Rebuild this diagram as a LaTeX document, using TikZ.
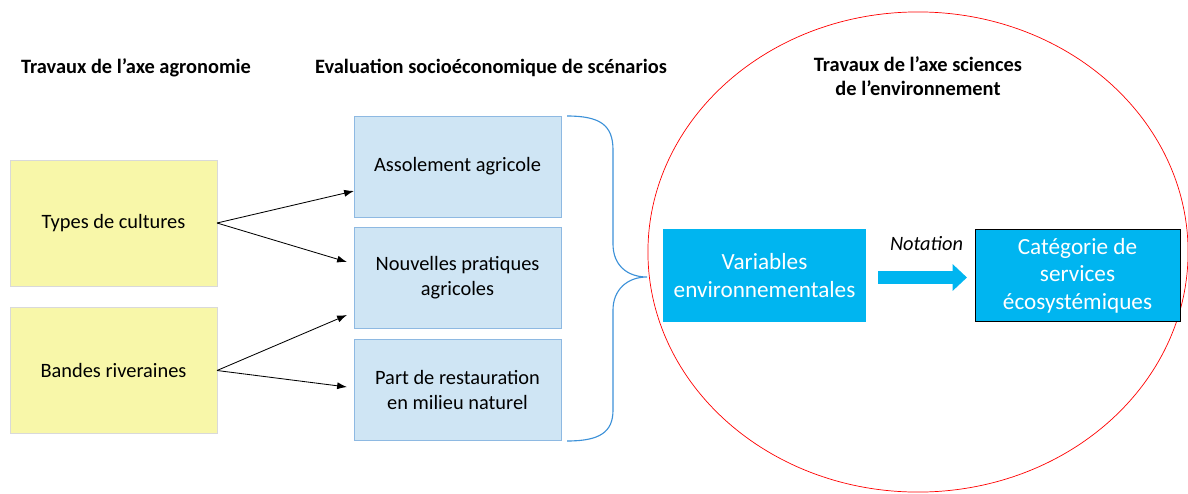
\documentclass[tikz,border=0pt]{standalone}
\usepackage{fontspec}
\setmainfont{Carlito}
\usetikzlibrary{arrows.meta,calc}
\definecolor{jaune}{HTML}{F8F7A9}
\definecolor{bleuclair}{HTML}{CFE5F4}
\definecolor{bleubord}{HTML}{8EB9E2}
\definecolor{cyanfort}{HTML}{00B5F0}
\definecolor{bleuaccol}{HTML}{3C91D8}
\begin{document}
\begin{tikzpicture}[x=0.025cm, y=-0.025cm, >={Latex[length=7pt,width=5pt]}, line width=0.6pt,
		every node/.style={font=\fontsize{14.5}{17.5}\selectfont, align=center, inner sep=0pt, outer sep=0pt},
		titre/.style={font=\fontsize{14.5}{17.5}\selectfont\bfseries},
		agro/.style={draw=black!15, fill=jaune, minimum width=5.175cm, minimum height=3.15cm},
		scen/.style={draw=bleubord, fill=bleuclair, minimum width=5.175cm, minimum height=2.525cm},
		env/.style={fill=cyanfort, text=white, font=\fontsize{16.5}{19.5}\selectfont, minimum height=2.3cm}]
	\useasboundingbox (0,0) rectangle (1188,493);
	\clip (0,0) rectangle (1188,493);
	
	% titres des trois axes
	\node[titre] (tagro) at (136,68) {Travaux de l’axe agronomie};
	\node[titre] (tscen) at (491,68) {Evaluation socioéconomique de scénarios};
	\node[titre] (tenv) at (918,76) {Travaux de l’axe sciences\\de l’environnement};
	
	% axe agronomie
	\node[agro] (types) at (113.5,223) {Types de cultures};
	\node[agro] (bandes) at (113.5,370.5) {Bandes riveraines};
	
	% scénarios
	\node[scen] (assol) at (457.5,166.5) {Assolement agricole};
	\node[scen] (pratiq) at (457.5,277.5) {Nouvelles pratiques\\agricoles};
	\node[scen] (restau) at (457.5,390) {Part de restauration\\en milieu naturel};
	
	% flèches vers les scénarios
	\draw[->] (types.east) -- ($(assol.west)+(0,24.5)$);
	\draw[->] (types.east) -- ($(pratiq.west)+(-7,-15.5)$);
	\draw[->] (bandes.east) -- ($(pratiq.west)+(-7,37.5)$);
	\draw[->] (bandes.east) -- ($(restau.west)+(-7,-3)$);
	
	% accolade
	\draw[bleuaccol, line width=0.8pt] (567,116) .. controls (600,116) and (613,125) .. (613,150)
		-- (613,244) .. controls (613,265) and (627,277) .. (647,277)
		.. controls (627,277) and (613,290) .. (613,310)
		-- (613,410) .. controls (613,432) and (600,441) .. (567,441);
	
	% axe sciences de l'environnement
	\draw[red, line width=0.5pt] (918,252) ellipse[x radius=6.75cm, y radius=6cm];
	\node[env, minimum width=5.075cm] (varenv) at (764.5,275.5) {Variables\\environnementales};
	\node[env, draw=black, minimum width=5.125cm] (categ) at (1077.5,275.5) {Catégorie de\\services\\écosystémiques};
	\draw[cyanfort, line width=0.325cm, -{Triangle[length=0.36cm,width=0.65cm]}]
		($(varenv.east)+(12,2)$) -- ($(categ.west)+(-8,2)$)
		node[midway, above=0.66cm, xshift=0.1cm, text=black, font=\fontsize{14.5}{17.5}\selectfont\itshape] {Notation};
\end{tikzpicture}
\end{document}
